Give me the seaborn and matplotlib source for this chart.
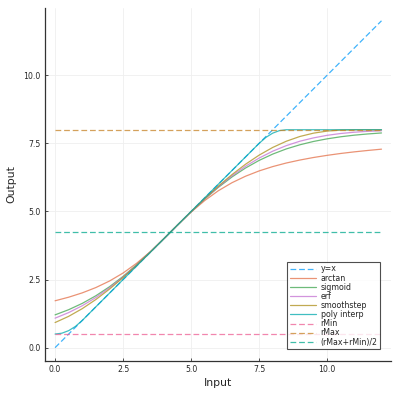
import numpy as np
import matplotlib
matplotlib.use("Agg")
import matplotlib.pyplot as plt
import seaborn as sns

# valeurs
x_grid = [0.0, 0.5, 1.0, 1.5, 2.0, 2.5, 3.0, 3.5, 4.0, 4.5, 5.0, 5.5, 6.0,
          6.5, 7.0, 7.5, 8.0, 8.5, 9.0, 9.5, 10.0, 10.5, 11.0, 11.5, 12.0]
y_arctan = [1.721, 1.853, 2.012, 2.207, 2.446, 2.740, 3.100, 3.523, 4.001,
            4.499, 4.977, 5.400, 5.760, 6.054, 6.293, 6.488, 6.647, 6.779,
            6.888, 6.981, 7.060, 7.129, 7.188, 7.240, 7.287]
y_sigmoid = [1.204, 1.394, 1.626, 1.906, 2.236, 2.617, 3.044, 3.510, 4.000,
             4.500, 4.990, 5.456, 5.883, 6.264, 6.594, 6.874, 7.106, 7.296,
             7.448, 7.570, 7.666, 7.742, 7.801, 7.846, 7.882]
y_erf = [1.083, 1.288, 1.540, 1.842, 2.195, 2.595, 3.035, 3.508, 4.000,
         4.500, 4.992, 5.465, 5.905, 6.305, 6.658, 6.960, 7.212, 7.417,
         7.579, 7.701, 7.795, 7.862, 7.909, 7.942, 7.963]
y_smooth = [0.922, 1.150, 1.433, 1.768, 2.149, 2.571, 3.026, 3.506, 4.000,
            4.500, 4.994, 5.474, 5.929, 6.351, 6.732, 7.067, 7.350, 7.578,
            7.753, 7.875, 7.951, 7.988, 7.999, 8.0, 8.0]
x_poly = [0.0, 0.25, 0.5, 0.75, 1.0, 7.5, 7.75, 8.0, 8.25, 8.5, 12.0]
y_poly = [0.5, 0.531, 0.625, 0.781, 1.0, 7.5, 7.719, 7.875, 7.969, 8.0, 8.0]
x_ident = [0.0, 12.0]
y_ident = [0.0, 12.0]
r_min = 0.5
r_max = 8.0
r_mid = 4.25

sns.set_style("whitegrid")
plt.rcParams['font.family'] = ['DejaVu Sans']

fig = plt.figure(figsize=(3.99, 3.99), dpi=100)
ax = fig.add_axes([0.1128, 0.0952, 0.8672, 0.8848])

dash = (0, (4.6, 2.3))
lw = 0.9
a = 0.75
sns.lineplot(x=x_ident, y=y_ident, ax=ax, color="#009AFA", lw=lw, alpha=a, linestyle=dash, label="y=x")
sns.lineplot(x=x_grid, y=y_arctan, ax=ax, color="#E36F47", lw=lw, alpha=a, label="arctan")
sns.lineplot(x=x_grid, y=y_sigmoid, ax=ax, color="#3EA44E", lw=lw, alpha=a, label="sigmoid")
sns.lineplot(x=x_grid, y=y_erf, ax=ax, color="#C371D2", lw=lw, alpha=a, label="erf")
sns.lineplot(x=x_grid, y=y_smooth, ax=ax, color="#AC8E18", lw=lw, alpha=a, label="smoothstep")
sns.lineplot(x=x_poly, y=y_poly, ax=ax, color="#00A9AD", lw=lw, alpha=a, label="poly interp")
sns.lineplot(x=x_ident, y=[r_min, r_min], ax=ax, color="#ED5E93", lw=lw, alpha=a, linestyle=dash, label="rMin")
sns.lineplot(x=x_ident, y=[r_max, r_max], ax=ax, color="#C68225", lw=lw, alpha=a, linestyle=dash, label="rMax")
sns.lineplot(x=x_ident, y=[r_mid, r_mid], ax=ax, color="#00A98D", lw=lw, alpha=a, linestyle=dash, label="(rMax+rMin)/2")

ax.set_xlim(-0.37, 12.35)
ax.set_ylim(-0.49, 12.47)
ticks = [0.0, 2.5, 5.0, 7.5, 10.0]
ax.set_xticks(ticks)
ax.set_yticks(ticks)
ax.set_xticklabels(["0.0", "2.5", "5.0", "7.5", "10.0"])
ax.set_yticklabels(["0.0", "2.5", "5.0", "7.5", "10.0"])
ax.tick_params(direction="in", length=2.5, width=0.6, color="#333333",
               labelsize=5.6, pad=3, bottom=True, left=True)
ax.grid(True, color="#efefef", lw=0.6)
for s in ["top", "right"]:
    ax.spines[s].set_visible(False)
for s in ["left", "bottom"]:
    ax.spines[s].set_visible(True)
    ax.spines[s].set_color("#333333")
    ax.spines[s].set_linewidth(0.9)
ax.set_xlabel("Input", fontsize=7.8, labelpad=3)
ax.set_ylabel("Output", fontsize=7.8, labelpad=5)

leg = ax.legend(loc="lower right", bbox_to_anchor=(0.968, 0.034), borderaxespad=0,
                fontsize=5.7, frameon=True, fancybox=False, handlelength=3.3,
                labelspacing=0.02, borderpad=0.3, handletextpad=0.6)
leg.get_frame().set_edgecolor("#222222")
leg.get_frame().set_linewidth(0.8)
for h in leg.get_lines():
    h.set_alpha(a)

fig.savefig("out.png", dpi=100)
